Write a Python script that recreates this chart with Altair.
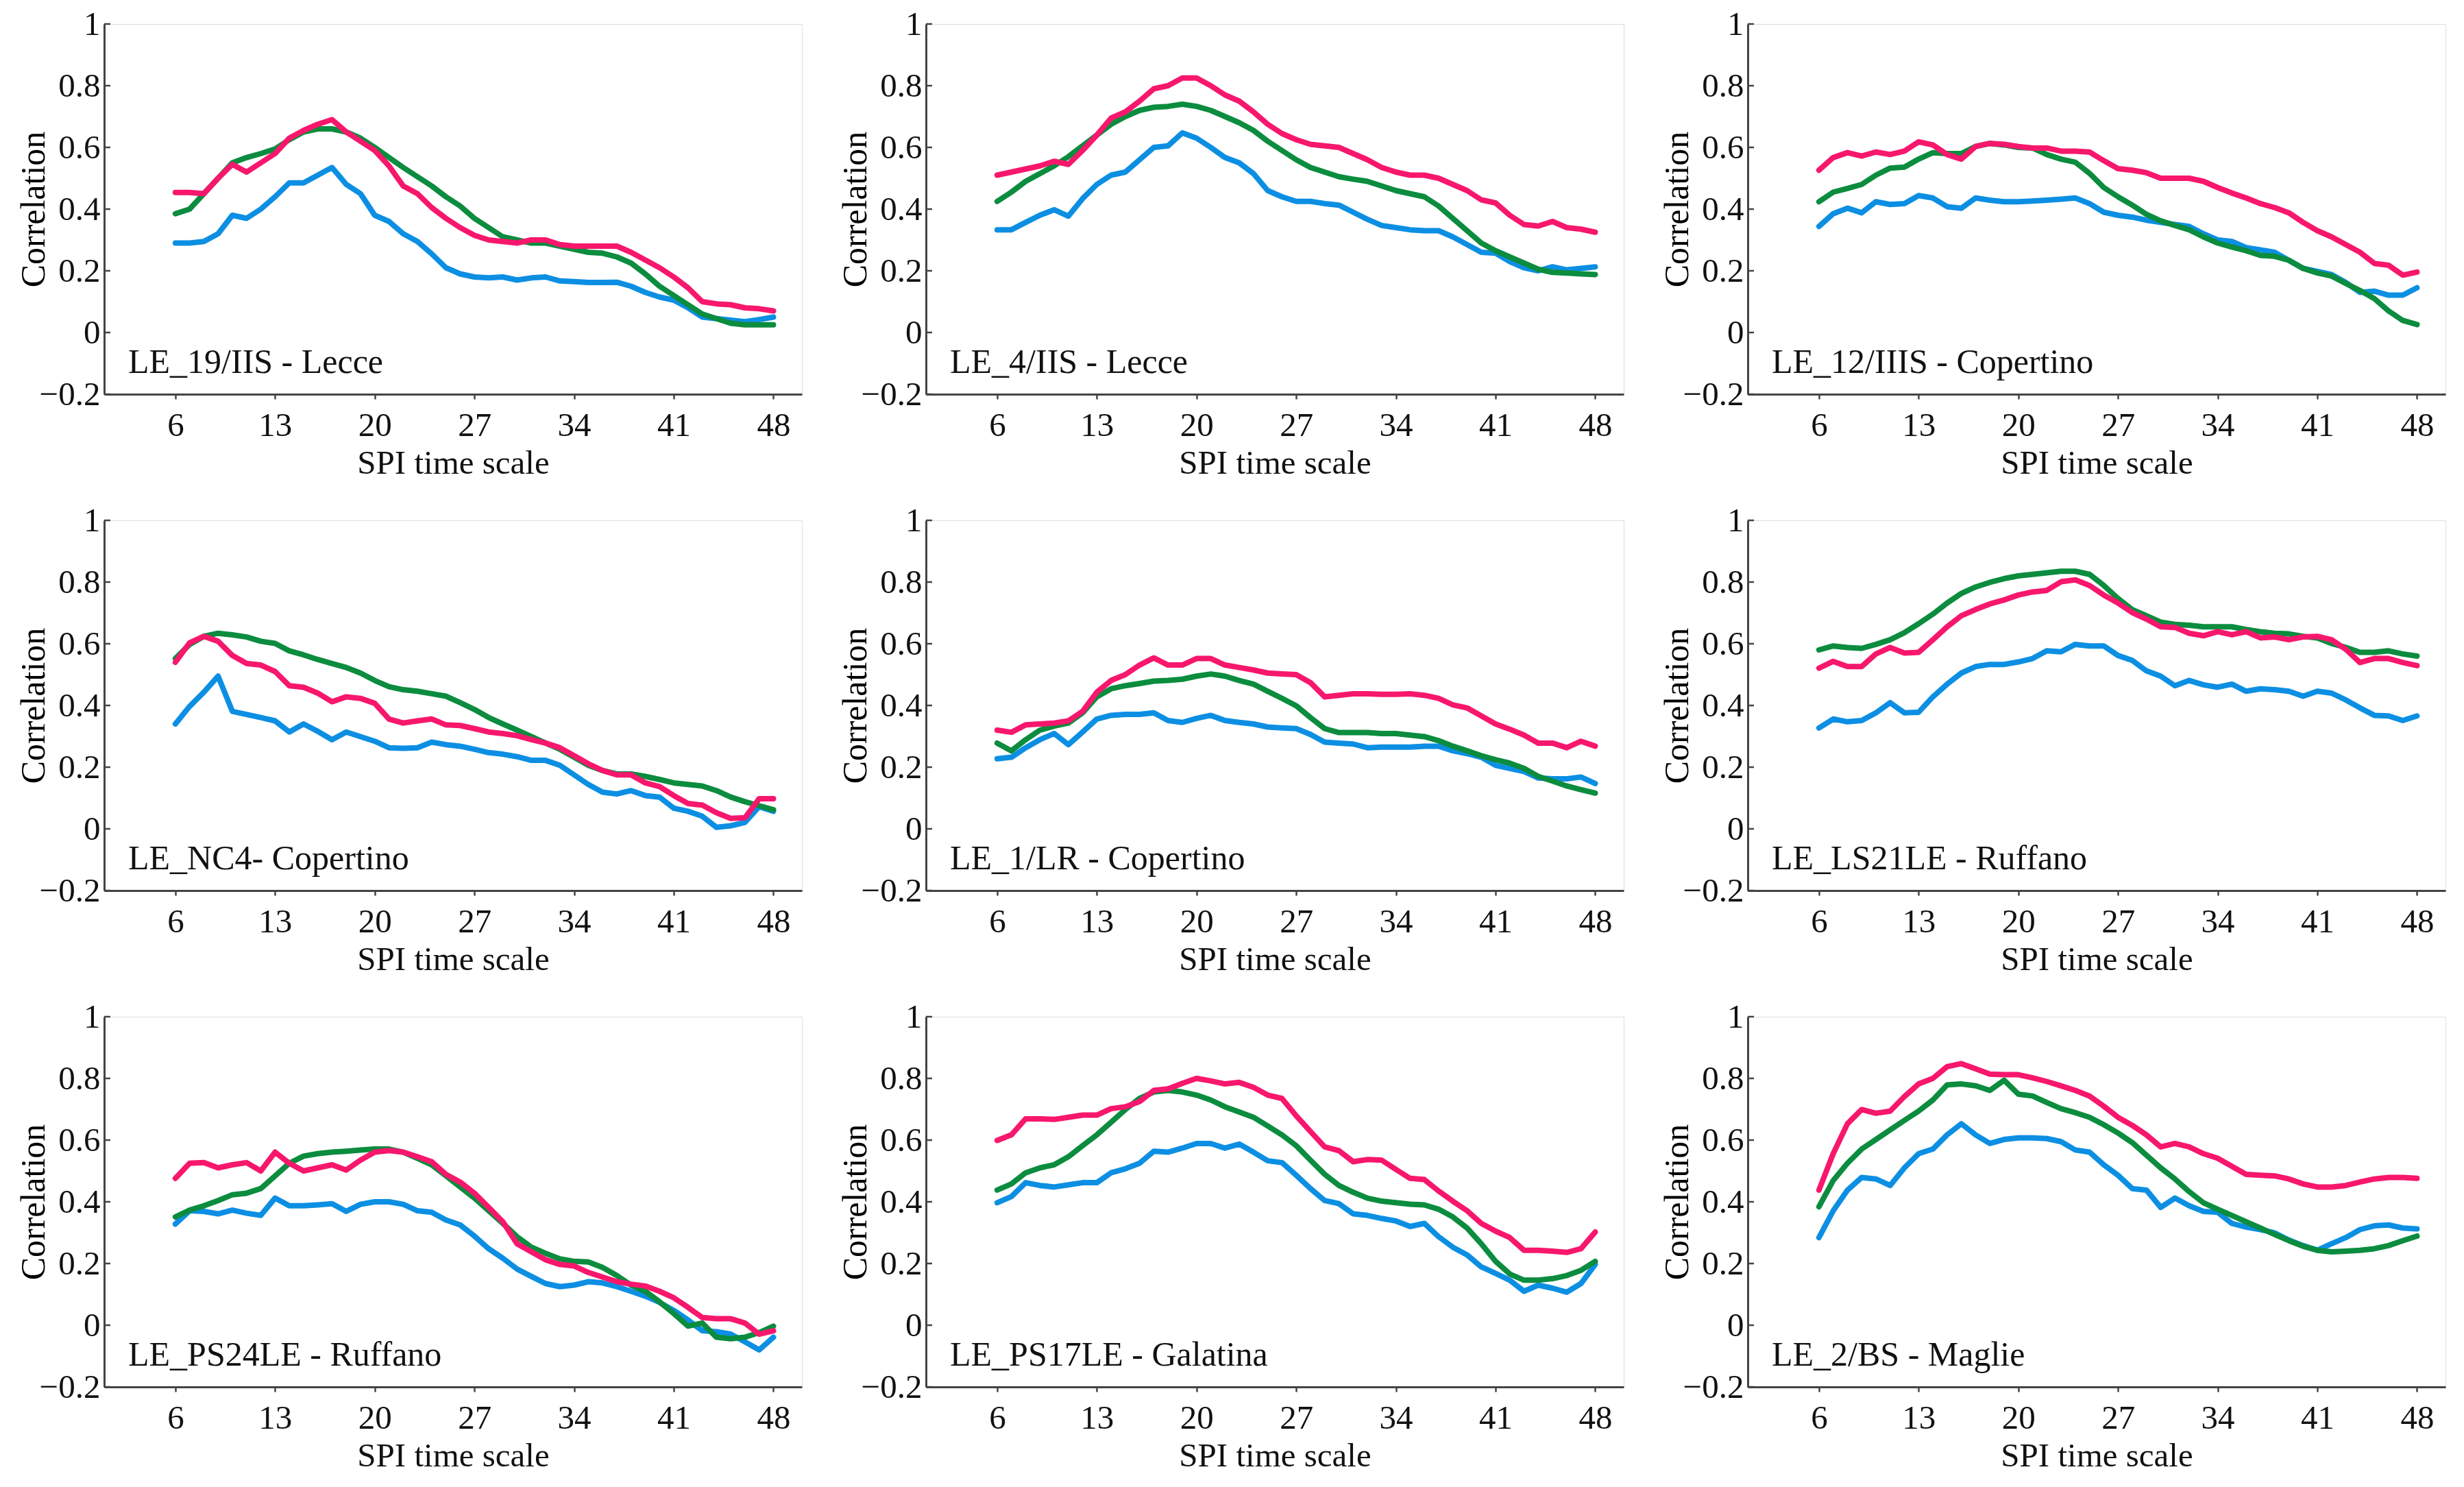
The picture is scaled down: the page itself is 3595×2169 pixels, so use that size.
import altair as alt
import pandas as pd

x_vals = list(range(6, 49))

panel_titles = [
    "LE_19/IIS - Lecce", "LE_4/IIS - Lecce", "LE_12/IIIS - Copertino",
    "LE_NC4- Copertino", "LE_1/LR - Copertino", "LE_LS21LE - Ruffano",
    "LE_PS24LE - Ruffano", "LE_PS17LE - Galatina", "LE_2/BS - Maglie",
]

series_names = ["blue", "green", "pink"]
series_colors = ["#0C8FE3", "#0B8C3E", "#F7176D"]

# ---- Panel 1: LE_19/IIS - Lecce
p1_pink = [0.454, 0.454, 0.45, 0.50, 0.545, 0.52, 0.55, 0.58, 0.63, 0.655, 0.675, 0.69, 0.65, 0.62, 0.59,
           0.54, 0.475, 0.45, 0.405, 0.37, 0.34, 0.315, 0.30, 0.295, 0.29, 0.30, 0.30, 0.285, 0.28, 0.28,
           0.28, 0.28, 0.26, 0.235, 0.21, 0.18, 0.145, 0.10, 0.093, 0.09, 0.08, 0.077, 0.07]
p1_green = [0.385, 0.40, 0.45, 0.50, 0.55, 0.567, 0.58, 0.595, 0.625, 0.65, 0.66, 0.66, 0.65, 0.63, 0.60,
            0.567, 0.535, 0.505, 0.475, 0.44, 0.41, 0.37, 0.34, 0.31, 0.30, 0.29, 0.29, 0.28, 0.27, 0.26,
            0.257, 0.245, 0.225, 0.19, 0.15, 0.12, 0.09, 0.06, 0.045, 0.03, 0.025, 0.025, 0.025]
p1_blue = [0.29, 0.29, 0.295, 0.32, 0.38, 0.37, 0.40, 0.44, 0.485, 0.485, 0.51, 0.535, 0.48, 0.45, 0.38,
           0.36, 0.32, 0.295, 0.255, 0.21, 0.19, 0.18, 0.177, 0.18, 0.17, 0.177, 0.18, 0.167, 0.165, 0.162,
           0.162, 0.163, 0.15, 0.13, 0.115, 0.105, 0.08, 0.05, 0.045, 0.04, 0.035, 0.042, 0.05]

# ---- Panel 2: LE_4/IIS - Lecce
p2_pink = [0.51, 0.52, 0.53, 0.54, 0.555, 0.545, 0.59, 0.64, 0.695, 0.715, 0.75, 0.79, 0.80, 0.825, 0.825,
           0.80, 0.77, 0.75, 0.715, 0.675, 0.645, 0.625, 0.61, 0.605, 0.60, 0.58, 0.56, 0.535, 0.52, 0.51,
           0.51, 0.50, 0.48, 0.46, 0.43, 0.42, 0.38, 0.35, 0.345, 0.36, 0.34, 0.335, 0.325]
p2_green = [0.425, 0.455, 0.49, 0.515, 0.54, 0.57, 0.605, 0.64, 0.675, 0.70, 0.72, 0.73, 0.733, 0.74, 0.733,
            0.72, 0.70, 0.68, 0.655, 0.62, 0.59, 0.56, 0.535, 0.52, 0.505, 0.497, 0.49, 0.475, 0.46, 0.45,
            0.44, 0.41, 0.37, 0.33, 0.29, 0.265, 0.245, 0.225, 0.205, 0.195, 0.193, 0.19, 0.188]
p2_blue = [0.333, 0.333, 0.357, 0.38, 0.398, 0.377, 0.434, 0.48, 0.51, 0.52, 0.56, 0.60, 0.605, 0.647, 0.63,
           0.60, 0.567, 0.55, 0.515, 0.46, 0.44, 0.425, 0.425, 0.418, 0.413, 0.39, 0.367, 0.347, 0.34, 0.333,
           0.33, 0.33, 0.31, 0.285, 0.26, 0.257, 0.23, 0.21, 0.20, 0.213, 0.203, 0.208, 0.213]

# ---- Panel 3: LE_12/IIIS - Copertino
p3_pink = [0.526, 0.567, 0.583, 0.572, 0.585, 0.577, 0.588, 0.618, 0.608, 0.577, 0.562, 0.603, 0.613, 0.61, 0.603,
           0.598, 0.598, 0.588, 0.588, 0.585, 0.557, 0.531, 0.526, 0.518, 0.50, 0.50, 0.50, 0.49, 0.47, 0.452,
           0.436, 0.418, 0.405, 0.388, 0.357, 0.33, 0.31, 0.285, 0.26, 0.224, 0.218, 0.186, 0.196]
p3_green = [0.424, 0.455, 0.467, 0.48, 0.51, 0.533, 0.536, 0.562, 0.583, 0.58, 0.58, 0.603, 0.613, 0.608, 0.60,
            0.598, 0.577, 0.562, 0.552, 0.516, 0.47, 0.44, 0.413, 0.383, 0.362, 0.347, 0.333, 0.31, 0.29, 0.277,
            0.265, 0.25, 0.247, 0.234, 0.208, 0.193, 0.183, 0.159, 0.136, 0.11, 0.07, 0.039, 0.026]
p3_blue = [0.344, 0.385, 0.403, 0.388, 0.424, 0.415, 0.418, 0.444, 0.436, 0.408, 0.403, 0.436, 0.429, 0.424, 0.424,
           0.426, 0.429, 0.432, 0.436, 0.418, 0.39, 0.38, 0.374, 0.364, 0.357, 0.35, 0.344, 0.32, 0.30, 0.295,
           0.275, 0.268, 0.26, 0.234, 0.208, 0.198, 0.188, 0.162, 0.13, 0.134, 0.121, 0.121, 0.145]

# ---- Panel 4: LE_NC4- Copertino
p4_pink = [0.54, 0.603, 0.624, 0.608, 0.562, 0.536, 0.531, 0.51, 0.464, 0.459, 0.44, 0.412, 0.428, 0.423, 0.407,
           0.356, 0.343, 0.35, 0.356, 0.337, 0.335, 0.325, 0.314, 0.309, 0.302, 0.289, 0.278, 0.263, 0.237, 0.211,
           0.189, 0.175, 0.175, 0.149, 0.137, 0.108, 0.082, 0.077, 0.052, 0.034, 0.036, 0.098, 0.098]
p4_green = [0.552, 0.598, 0.624, 0.634, 0.629, 0.622, 0.608, 0.601, 0.577, 0.564, 0.549, 0.536, 0.523, 0.505, 0.481,
            0.461, 0.451, 0.446, 0.438, 0.43, 0.409, 0.387, 0.361, 0.34, 0.32, 0.299, 0.278, 0.258, 0.232, 0.206,
            0.189, 0.178, 0.178, 0.17, 0.16, 0.149, 0.144, 0.139, 0.124, 0.103, 0.088, 0.075, 0.062]
p4_blue = [0.34, 0.397, 0.443, 0.495, 0.381, 0.371, 0.361, 0.35, 0.314, 0.34, 0.316, 0.289, 0.314, 0.299, 0.284,
           0.263, 0.261, 0.263, 0.281, 0.273, 0.268, 0.258, 0.247, 0.242, 0.234, 0.222, 0.222, 0.206, 0.175, 0.144,
           0.119, 0.113, 0.124, 0.108, 0.103, 0.067, 0.057, 0.041, 0.005, 0.01, 0.021, 0.072, 0.057]

# ---- Panel 5: LE_1/LR - Copertino
p5_pink = [0.32, 0.313, 0.337, 0.34, 0.343, 0.35, 0.381, 0.443, 0.481, 0.50, 0.531, 0.554, 0.531, 0.531, 0.552,
           0.552, 0.531, 0.523, 0.515, 0.505, 0.502, 0.50, 0.474, 0.428, 0.433, 0.438, 0.438, 0.436, 0.436, 0.438,
           0.433, 0.423, 0.402, 0.392, 0.366, 0.34, 0.323, 0.304, 0.278, 0.278, 0.263, 0.284, 0.268]
p5_green = [0.278, 0.253, 0.289, 0.32, 0.333, 0.343, 0.376, 0.428, 0.454, 0.464, 0.471, 0.479, 0.481, 0.485, 0.495,
            0.502, 0.495, 0.481, 0.469, 0.446, 0.423, 0.399, 0.361, 0.325, 0.312, 0.312, 0.312, 0.309, 0.309, 0.304,
            0.299, 0.286, 0.268, 0.253, 0.237, 0.224, 0.213, 0.196, 0.17, 0.155, 0.139, 0.127, 0.116]
p5_blue = [0.227, 0.232, 0.263, 0.289, 0.309, 0.273, 0.314, 0.356, 0.368, 0.371, 0.371, 0.376, 0.351, 0.345, 0.358,
           0.368, 0.351, 0.345, 0.34, 0.33, 0.327, 0.325, 0.306, 0.281, 0.278, 0.275, 0.263, 0.265, 0.265, 0.265,
           0.268, 0.268, 0.253, 0.244, 0.232, 0.206, 0.196, 0.186, 0.165, 0.162, 0.162, 0.168, 0.147]

# ---- Panel 6: LE_LS21LE - Ruffano
p6_pink = [0.521, 0.543, 0.526, 0.526, 0.567, 0.588, 0.57, 0.572, 0.613, 0.655, 0.691, 0.711, 0.729, 0.742, 0.758,
           0.768, 0.773, 0.801, 0.807, 0.789, 0.758, 0.732, 0.701, 0.68, 0.655, 0.653, 0.634, 0.626, 0.639, 0.629,
           0.639, 0.619, 0.622, 0.613, 0.622, 0.624, 0.613, 0.582, 0.539, 0.552, 0.552, 0.539, 0.529]
p6_green = [0.58, 0.593, 0.588, 0.585, 0.598, 0.613, 0.636, 0.665, 0.696, 0.732, 0.763, 0.784, 0.799, 0.811, 0.82,
            0.825, 0.83, 0.835, 0.835, 0.825, 0.789, 0.747, 0.711, 0.691, 0.67, 0.663, 0.66, 0.655, 0.655, 0.655,
            0.646, 0.639, 0.634, 0.632, 0.624, 0.619, 0.601, 0.588, 0.572, 0.572, 0.577, 0.567, 0.56]
p6_blue = [0.327, 0.356, 0.347, 0.351, 0.376, 0.409, 0.376, 0.378, 0.428, 0.469, 0.505, 0.526, 0.533, 0.533, 0.541,
           0.552, 0.577, 0.574, 0.598, 0.593, 0.593, 0.562, 0.546, 0.512, 0.495, 0.464, 0.481, 0.467, 0.459, 0.469,
           0.446, 0.454, 0.451, 0.446, 0.43, 0.446, 0.44, 0.418, 0.392, 0.368, 0.366, 0.351, 0.366]

# ---- Panel 7: LE_PS24LE - Ruffano
p7_pink = [0.476, 0.525, 0.527, 0.51, 0.52, 0.527, 0.50, 0.561, 0.525, 0.50, 0.51, 0.52, 0.503, 0.535, 0.561,
           0.566, 0.561, 0.546, 0.53, 0.489, 0.464, 0.428, 0.382, 0.335, 0.264, 0.238, 0.212, 0.197, 0.192, 0.171,
           0.156, 0.141, 0.133, 0.127, 0.11, 0.089, 0.058, 0.025, 0.021, 0.021, 0.007, -0.029, -0.018]
p7_green = [0.351, 0.373, 0.387, 0.404, 0.423, 0.428, 0.443, 0.484, 0.525, 0.548, 0.556, 0.561, 0.564, 0.568, 0.571,
            0.571, 0.561, 0.541, 0.52, 0.484, 0.448, 0.412, 0.371, 0.33, 0.287, 0.253, 0.233, 0.215, 0.207, 0.205,
            0.187, 0.161, 0.13, 0.11, 0.076, 0.038, -0.003, 0.007, -0.039, -0.044, -0.039, -0.024, -0.003]
p7_blue = [0.328, 0.371, 0.369, 0.361, 0.373, 0.363, 0.356, 0.412, 0.387, 0.387, 0.39, 0.394, 0.369, 0.392, 0.40,
           0.40, 0.392, 0.371, 0.366, 0.341, 0.325, 0.289, 0.248, 0.217, 0.182, 0.158, 0.135, 0.125, 0.13, 0.141,
           0.137, 0.125, 0.11, 0.094, 0.074, 0.048, 0.017, -0.018, -0.021, -0.029, -0.054, -0.08, -0.039]

# ---- Panel 8: LE_PS17LE - Galatina
p8_pink = [0.599, 0.617, 0.669, 0.669, 0.667, 0.674, 0.681, 0.681, 0.702, 0.708, 0.725, 0.761, 0.766, 0.784, 0.80,
           0.792, 0.782, 0.787, 0.771, 0.746, 0.735, 0.679, 0.628, 0.578, 0.566, 0.53, 0.537, 0.535, 0.505, 0.476,
           0.472, 0.435, 0.402, 0.371, 0.33, 0.305, 0.284, 0.243, 0.243, 0.24, 0.236, 0.248, 0.302]
p8_green = [0.438, 0.458, 0.494, 0.51, 0.52, 0.546, 0.582, 0.617, 0.658, 0.699, 0.735, 0.756, 0.761, 0.756, 0.746,
            0.73, 0.708, 0.691, 0.674, 0.646, 0.617, 0.582, 0.535, 0.489, 0.453, 0.431, 0.412, 0.402, 0.397, 0.392,
            0.39, 0.376, 0.351, 0.315, 0.264, 0.207, 0.166, 0.146, 0.146, 0.151, 0.161, 0.178, 0.207]
p8_blue = [0.397, 0.417, 0.462, 0.453, 0.448, 0.455, 0.462, 0.462, 0.494, 0.507, 0.525, 0.564, 0.561, 0.574, 0.589,
           0.589, 0.574, 0.587, 0.561, 0.533, 0.527, 0.486, 0.443, 0.404, 0.394, 0.361, 0.356, 0.346, 0.338, 0.32,
           0.33, 0.287, 0.253, 0.228, 0.189, 0.168, 0.146, 0.11, 0.13, 0.12, 0.107, 0.135, 0.197]

# ---- Panel 9: LE_2/BS - Maglie
p9_pink = [0.438, 0.556, 0.653, 0.699, 0.687, 0.694, 0.741, 0.782, 0.80, 0.838, 0.848, 0.831, 0.814, 0.812, 0.812,
           0.802, 0.79, 0.776, 0.761, 0.743, 0.71, 0.674, 0.648, 0.617, 0.578, 0.589, 0.578, 0.556, 0.541, 0.515,
           0.489, 0.486, 0.484, 0.474, 0.458, 0.448, 0.448, 0.453, 0.464, 0.474, 0.479, 0.479, 0.476]
p9_green = [0.384, 0.469, 0.525, 0.571, 0.602, 0.633, 0.664, 0.694, 0.73, 0.779, 0.782, 0.776, 0.761, 0.794, 0.749,
            0.743, 0.722, 0.702, 0.689, 0.674, 0.65, 0.623, 0.592, 0.551, 0.51, 0.474, 0.433, 0.397, 0.376, 0.356,
            0.335, 0.315, 0.294, 0.274, 0.256, 0.243, 0.238, 0.24, 0.243, 0.248, 0.258, 0.274, 0.289]
p9_blue = [0.284, 0.371, 0.438, 0.479, 0.474, 0.453, 0.51, 0.556, 0.571, 0.617, 0.653, 0.617, 0.589, 0.602, 0.607,
           0.607, 0.605, 0.595, 0.568, 0.561, 0.52, 0.486, 0.443, 0.438, 0.382, 0.412, 0.387, 0.369, 0.366, 0.33,
           0.318, 0.31, 0.299, 0.276, 0.258, 0.243, 0.264, 0.284, 0.31, 0.322, 0.325, 0.315, 0.312]

panels = [
    (p1_blue, p1_green, p1_pink), (p2_blue, p2_green, p2_pink), (p3_blue, p3_green, p3_pink),
    (p4_blue, p4_green, p4_pink), (p5_blue, p5_green, p5_pink), (p6_blue, p6_green, p6_pink),
    (p7_blue, p7_green, p7_pink), (p8_blue, p8_green, p8_pink), (p9_blue, p9_green, p9_pink),
]

x_ticks = [6, 13, 20, 27, 34, 41, 48]
y_ticks = [-0.2, 0, 0.2, 0.4, 0.6, 0.8, 1]

FONT = "Liberation Serif"
W, H = 1018, 540
FS = 49


def make_panel(idx):
    rows = []
    for name, vals in zip(series_names, panels[idx]):
        for xv, yv in zip(x_vals, vals):
            rows.append({"scale": xv, "corr": yv, "series": name})
    df = pd.DataFrame(rows)

    xenc = alt.X("scale:Q",
                 scale=alt.Scale(domain=[1, 50], nice=False, zero=False),
                 axis=alt.Axis(values=x_ticks, title="SPI time scale", grid=False,
                               tickSize=7, tickWidth=2.5, tickColor="#444",
                               domainColor="#444", domainWidth=3,
                               labelFont=FONT, labelFontSize=FS, labelColor="#111",
                               labelPadding=14, titleFont=FONT, titleFontSize=FS,
                               titleFontWeight="normal", titleColor="#111", titlePadding=6))
    yenc = alt.Y("corr:Q",
                 scale=alt.Scale(domain=[-0.2, 1], nice=False, zero=False),
                 axis=alt.Axis(values=y_ticks, format=".1~f", title="Correlation", grid=False,
                               tickSize=0, domainColor="#444", domainWidth=3,
                               labelFont=FONT, labelFontSize=FS, labelColor="#111",
                               labelPadding=6, titleFont=FONT, titleFontSize=FS + 1,
                               titleFontWeight="normal", titleColor="#000",
                               titleX=-103, titleY=H / 2, titleBaseline="middle", titleAlign="center"))

    lines = alt.Chart(df).mark_line(strokeWidth=8, strokeJoin="round", strokeCap="round").encode(
        x=xenc, y=yenc,
        color=alt.Color("series:N", scale=alt.Scale(domain=series_names, range=series_colors), legend=None),
        order=alt.Order("scale:Q"),
        detail="series:N",
    )

    tick_df = pd.DataFrame({"t": y_ticks})
    yticks = alt.Chart(tick_df).mark_rule(color="#444", strokeWidth=2.5).encode(
        y=alt.Y("t:Q", scale=alt.Scale(domain=[-0.2, 1], nice=False, zero=False)),
        x=alt.value(0), x2=alt.value(9))

    lab_df = pd.DataFrame({"label": [panel_titles[idx]]})
    label = alt.Chart(lab_df).mark_text(font=FONT, fontSize=FS + 1, align="left",
                                        baseline="alphabetic", color="#111").encode(
        text="label:N", x=alt.value(35), y=alt.value(509))

    return alt.layer(lines, yticks, label).properties(width=W, height=H)


rows_ch = []
for r in range(3):
    rows_ch.append(alt.hconcat(*[make_panel(r * 3 + c) for c in range(3)], spacing=51))

chart = alt.vconcat(*rows_ch, spacing=33).properties(
    padding={"left": 15, "top": 2, "right": 5, "bottom": 5}
).configure_view(stroke="#666", strokeWidth=2.5).configure(background="white")

chart.save("out.html", embed_options={"renderer": "svg", "actions": False})
